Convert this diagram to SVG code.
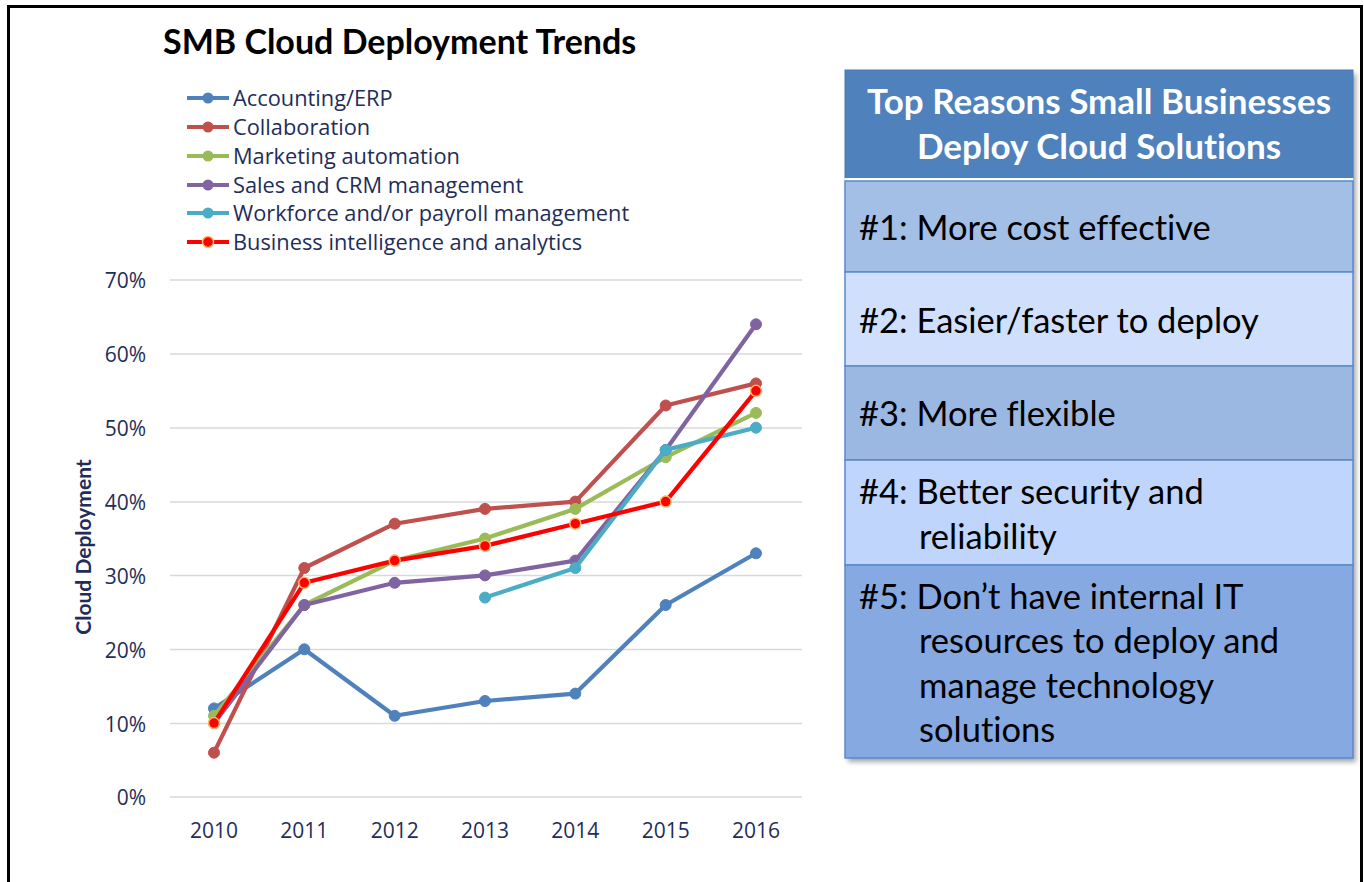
<svg xmlns="http://www.w3.org/2000/svg" width="1364" height="882" viewBox="0 0 1364 882">
<style>
text{font-variant-ligatures:none}
.grid{stroke:#d9d9d9;stroke-width:1.5}
.tick{font-family:"Open Sans","Liberation Sans",sans-serif;font-size:21px;fill:#1f2d5a}
.leg{font-family:"Open Sans","Liberation Sans",sans-serif;font-size:21.8px;fill:#1f2d5a}
.ser{fill:none;stroke-width:4.2;stroke-linejoin:round;stroke-linecap:round}
.hdr{font-family:Lato,"Open Sans",sans-serif;font-weight:bold;font-size:35px;fill:#ffffff}
.row{font-family:Lato,"Open Sans",sans-serif;font-size:34.5px;fill:#000000}
.rowbox{stroke:#5a89cc;stroke-width:1.5}
</style>
<defs>
<filter id="sh" x="-5%" y="-5%" width="110%" height="110%">
<feDropShadow dx="3" dy="4" stdDeviation="2.5" flood-color="#000" flood-opacity="0.35"/>
</filter>
</defs>
<rect x="0" y="0" width="1364" height="882" fill="#ffffff"/>
<path d="M8.5 900 V6.5 H1361.5 V900" fill="none" stroke="#000" stroke-width="3"/>
<g id="title">
<text x="163" y="54" font-family="Lato,'Open Sans',sans-serif" font-weight="bold" font-size="34" fill="#000">SMB Cloud Deployment Trends</text>
</g>
<g id="gridlines">
<line class="grid" x1="170" y1="280" x2="802" y2="280"/>
<line class="grid" x1="170" y1="354" x2="802" y2="354"/>
<line class="grid" x1="170" y1="428" x2="802" y2="428"/>
<line class="grid" x1="170" y1="502" x2="802" y2="502"/>
<line class="grid" x1="170" y1="575.5" x2="802" y2="575.5"/>
<line class="grid" x1="170" y1="649.5" x2="802" y2="649.5"/>
<line class="grid" x1="170" y1="723.5" x2="802" y2="723.5"/>
<line class="grid" x1="170" y1="797" x2="802" y2="797"/>
</g>
<g id="yaxis" text-anchor="end">
<text class="tick" x="146" y="288">70%</text>
<text class="tick" x="146" y="362">60%</text>
<text class="tick" x="146" y="436">50%</text>
<text class="tick" x="146" y="510">40%</text>
<text class="tick" x="146" y="584">30%</text>
<text class="tick" x="146" y="658">20%</text>
<text class="tick" x="146" y="732">10%</text>
<text class="tick" x="146" y="805">0%</text>
</g>
<g id="xaxis" text-anchor="middle">
<text class="tick" x="214" y="838">2010</text>
<text class="tick" x="304.3" y="838">2011</text>
<text class="tick" x="394.7" y="838">2012</text>
<text class="tick" x="485" y="838">2013</text>
<text class="tick" x="575.3" y="838">2014</text>
<text class="tick" x="665.7" y="838">2015</text>
<text class="tick" x="756" y="838">2016</text>
</g>
<g id="ytitle">
<text transform="translate(91,547) rotate(-90)" text-anchor="middle" font-family="Lato,'Open Sans',sans-serif" font-weight="bold" font-size="21" fill="#1f2d5a">Cloud Deployment</text>
</g>
<g id="connectors">
<g id="s-accounting" stroke="#4f81bd" fill="#4f81bd">
<polyline class="ser" points="214,708.4 304.3,649.3 394.7,715.8 485,701 575.3,693.6 665.7,605 756,553.3"/>
<circle cx="214" cy="708.4" r="5.5"/><circle cx="304.3" cy="649.3" r="5.5"/><circle cx="394.7" cy="715.8" r="5.5"/><circle cx="485" cy="701" r="5.5"/><circle cx="575.3" cy="693.6" r="5.5"/><circle cx="665.7" cy="605" r="5.5"/><circle cx="756" cy="553.3" r="5.5"/>
</g>
<g id="s-collab" stroke="#c0504d" fill="#c0504d">
<polyline class="ser" points="214,752.7 304.3,568 394.7,523.7 485,508.9 575.3,501.6 665.7,405.5 756,383.4"/>
<circle cx="214" cy="752.7" r="5.5"/><circle cx="304.3" cy="568" r="5.5"/><circle cx="394.7" cy="523.7" r="5.5"/><circle cx="485" cy="508.9" r="5.5"/><circle cx="575.3" cy="501.6" r="5.5"/><circle cx="665.7" cy="405.5" r="5.5"/><circle cx="756" cy="383.4" r="5.5"/>
</g>
<g id="s-marketing" stroke="#9bbb59" fill="#9bbb59">
<polyline class="ser" points="214,715.8 304.3,605 394.7,560.6 485,538.5 575.3,508.9 665.7,457.2 756,412.9"/>
<circle cx="214" cy="715.8" r="5.5"/><circle cx="304.3" cy="605" r="5.5"/><circle cx="394.7" cy="560.6" r="5.5"/><circle cx="485" cy="538.5" r="5.5"/><circle cx="575.3" cy="508.9" r="5.5"/><circle cx="665.7" cy="457.2" r="5.5"/><circle cx="756" cy="412.9" r="5.5"/>
</g>
<g id="s-sales" stroke="#8064a2" fill="#8064a2">
<polyline class="ser" points="214,723.1 304.3,605 394.7,582.8 485,575.4 575.3,560.6 665.7,449.9 756,324.3"/>
<circle cx="214" cy="723.1" r="5.5"/><circle cx="304.3" cy="605" r="5.5"/><circle cx="394.7" cy="582.8" r="5.5"/><circle cx="485" cy="575.4" r="5.5"/><circle cx="575.3" cy="560.6" r="5.5"/><circle cx="665.7" cy="449.9" r="5.5"/><circle cx="756" cy="324.3" r="5.5"/>
</g>
<g id="s-workforce" stroke="#4bacc6" fill="#4bacc6">
<polyline class="ser" points="485,597.6 575.3,568 665.7,449.9 756,427.7"/>
<circle cx="485" cy="597.6" r="5.5"/><circle cx="575.3" cy="568" r="5.5"/><circle cx="665.7" cy="449.9" r="5.5"/><circle cx="756" cy="427.7" r="5.5"/>
</g>
<g id="s-bi">
<polyline class="ser" stroke="#ff0000" points="214,723.1 304.3,582.8 394.7,560.6 485,545.9 575.3,523.7 665.7,501.6 756,390.8"/>
<g fill="#ff0000" stroke="#f9b86a" stroke-width="1.5">
<circle cx="214" cy="723.1" r="5.5"/><circle cx="304.3" cy="582.8" r="5.5"/><circle cx="394.7" cy="560.6" r="5.5"/><circle cx="485" cy="545.9" r="5.5"/><circle cx="575.3" cy="523.7" r="5.5"/><circle cx="665.7" cy="501.6" r="5.5"/><circle cx="756" cy="390.8" r="5.5"/>
</g>
</g>
</g>
<g id="legend">
<g stroke-width="4"><line x1="187" y1="98" x2="229" y2="98" stroke="#4f81bd"/><circle cx="208" cy="98" r="5.5" fill="#4f81bd" stroke="none"/></g>
<text class="leg" x="233" y="106">Accounting/ERP</text>
<g stroke-width="4"><line x1="187" y1="127" x2="229" y2="127" stroke="#c0504d"/><circle cx="208" cy="127" r="5.5" fill="#c0504d" stroke="none"/></g>
<text class="leg" x="233" y="135">Collaboration</text>
<g stroke-width="4"><line x1="187" y1="156" x2="229" y2="156" stroke="#9bbb59"/><circle cx="208" cy="156" r="5.5" fill="#9bbb59" stroke="none"/></g>
<text class="leg" x="233" y="164">Marketing automation</text>
<g stroke-width="4"><line x1="187" y1="185" x2="229" y2="185" stroke="#8064a2"/><circle cx="208" cy="185" r="5.5" fill="#8064a2" stroke="none"/></g>
<text class="leg" x="233" y="193">Sales and CRM management</text>
<g stroke-width="4"><line x1="187" y1="213" x2="229" y2="213" stroke="#4bacc6"/><circle cx="208" cy="213" r="5.5" fill="#4bacc6" stroke="none"/></g>
<text class="leg" x="233" y="221">Workforce and/or payroll management</text>
<g stroke-width="4"><line x1="187" y1="242" x2="229" y2="242" stroke="#ff0000"/><circle cx="208" cy="242" r="5.5" fill="#ff0000" stroke="#f9b86a" stroke-width="1.5"/></g>
<text class="leg" x="233" y="250">Business intelligence and analytics</text>
</g>
<g id="panel">
<rect x="845" y="70" width="508" height="688" fill="#86a9e1" filter="url(#sh)"/>
<g id="panel-header">
<rect x="845" y="70" width="508" height="108" fill="#4f81bd" stroke="#4a7ab5" stroke-width="1"/>
<text class="hdr" x="1099" y="114" text-anchor="middle">Top Reasons Small Businesses</text>
<text class="hdr" x="1099" y="159" text-anchor="middle">Deploy Cloud Solutions</text>
<rect x="845" y="178" width="508" height="3" fill="#ffffff"/>
</g>
<g id="reason1">
<rect class="rowbox" x="845" y="181" width="508" height="91" fill="#a3bfe5"/>
<text class="row" x="859" y="240">#1: More cost effective</text>
</g>
<g id="reason2">
<rect class="rowbox" x="845" y="272" width="508" height="94" fill="#d0e0fc"/>
<text class="row" x="859" y="333">#2: Easier/faster to deploy</text>
</g>
<g id="reason3">
<rect class="rowbox" x="845" y="366" width="508" height="94" fill="#9bb8e2"/>
<text class="row" x="859" y="426">#3: More flexible</text>
</g>
<g id="reason4">
<rect class="rowbox" x="845" y="460" width="508" height="105" fill="#c0d5fb"/>
<text class="row" x="859" y="504">#4: Better security and</text>
<text class="row" x="919" y="549">reliability</text>
</g>
<g id="reason5">
<rect class="rowbox" x="845" y="565" width="508" height="193" fill="#86a9e1"/>
<text class="row" x="859" y="609">#5: Don’t have internal IT</text>
<text class="row" x="919" y="653">resources to deploy and</text>
<text class="row" x="919" y="698">manage technology</text>
<text class="row" x="919" y="742">solutions</text>
</g>
</g>
</svg>
